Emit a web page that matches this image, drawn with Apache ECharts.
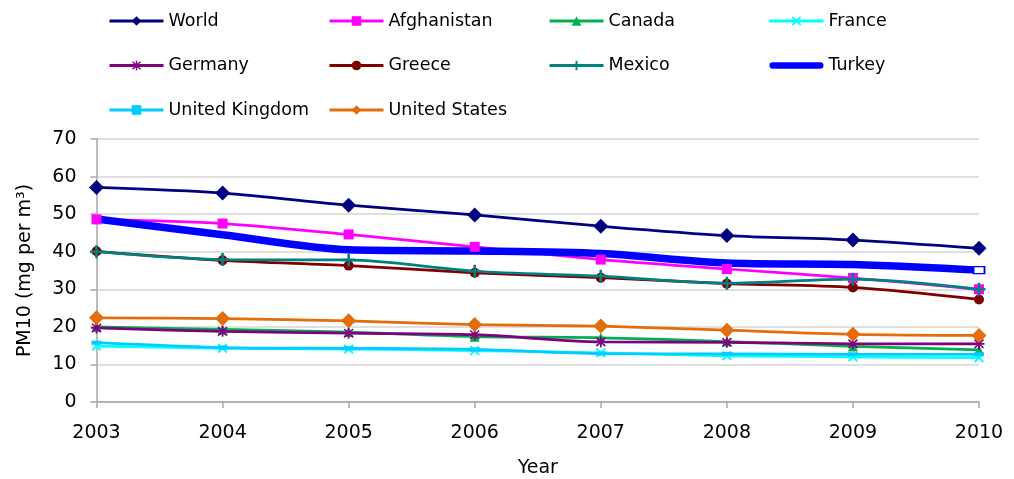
<!DOCTYPE html>
<html>
<head>
<meta charset="utf-8">
<script src="https://cdn.jsdelivr.net/npm/echarts@6/dist/echarts.min.js"></script>
<style>html,body{margin:0;padding:0;background:#fff;}#c{width:1014px;height:479px;}</style>
</head>
<body>
<div id="c"></div>
<script>
const years = ['2003','2004','2005','2006','2007','2008','2009','2010'];
const world       = [57.1, 55.6, 52.4, 49.8, 46.8, 44.3, 43.1, 40.9];
const afghanistan = [48.6, 47.5, 44.6, 41.3, 37.9, 35.4, 33.0, 30.0];
const canada      = [20.0, 19.3, 18.6, 17.4, 17.1, 16.1, 14.8, 13.9];
const france      = [14.9, 14.3, 14.1, 13.7, 13.1, 12.3, 12.0, 11.8];
const germany     = [19.7, 18.8, 18.3, 17.9, 16.0, 15.9, 15.5, 15.5];
const greece      = [40.1, 37.7, 36.3, 34.4, 33.1, 31.5, 30.5, 27.3];
const mexico      = [40.0, 37.9, 37.8, 34.8, 33.5, 31.6, 32.7, 30.0];
const turkey      = [48.7, 44.5, 40.5, 40.2, 39.5, 37.0, 36.6, 35.1];
const uk          = [15.8, 14.5, 14.3, 14.0, 12.9, 12.8, 12.7, 12.7];
const us          = [22.4, 22.2, 21.6, 20.6, 20.2, 19.1, 18.0, 17.7];
const yTicks = [0, 10, 20, 30, 40, 50, 60, 70];

const FONT = 'DejaVu Sans';
const plusPath = 'path://M4,0H6V4H10V6H6V10H4V6H0V4H4Z';
const xPath = 'path://M1.4,0L5,3.6L8.6,0L10,1.4L6.4,5L10,8.6L8.6,10L5,6.4L1.4,10L0,8.6L3.6,5L0,1.4Z';
const starPath = 'path://M4.2,0H5.8V3.1L8.6,0.6L9.6,1.7L6.9,4.2H10V5.8H6.9L9.6,8.3L8.6,9.4L5.8,6.9V10H4.2V6.9L1.4,9.4L0.4,8.3L3.1,5.8H0V4.2H3.1L0.4,1.7L1.4,0.6L4.2,3.1Z';
const thickLegendPath = 'path://M0,0L0.01,0L0.01,0.01Z M1,2.5H53A3.5,3.5 0 0 1 53,9.5H1A3.5,3.5 0 0 1 1,2.5Z M0,12L0.01,12L0.01,11.99Z';

function mk(name, data, color, symbol, size, width) {
  return {
    name: name, type: 'line', data: data, smooth: 0.3,
    symbol: symbol, symbolSize: size, showSymbol: true,
    lineStyle: { color: color, width: width || 2.75 },
    itemStyle: { color: color },
    emphasis: { disabled: true },
    animation: false
  };
}

const last = turkey.length - 1;
const series = [
  mk('World', world, '#000080', 'diamond', 15),
  mk('Afghanistan', afghanistan, '#FF00FF', 'rect', 10),
  mk('Canada', canada, '#00B050', 'triangle', 10),
  mk('France', france, '#00FFFF', xPath, 10),
  mk('Germany', germany, '#800080', starPath, 11),
  mk('Greece', greece, '#800000', 'circle', 10),
  mk('Mexico', mexico, '#008080', plusPath, 13),
  mk('Turkey', turkey.map((v, i) => i === last ? {
      value: v, symbol: 'rect', symbolSize: [11, 7],
      itemStyle: { color: '#ffffff', borderColor: '#0000FF', borderWidth: 1.5 }
    } : { value: v, symbol: 'none' }), '#0000FF', 'none', 0, 7.5),
  mk('United Kingdom', uk, '#00CCFF', 'rect', [10, 4]),
  mk('United States', us, '#E46C0A', 'diamond', 15)
];

function legendCol(left, names) {
  return {
    orient: 'vertical', left: left, top: 11,
    itemWidth: 54, itemHeight: 12, itemGap: 24.5,
    lineStyle: { width: 3 },
    textStyle: { fontFamily: FONT, fontSize: 17.5, color: '#000', lineHeight: 20 },
    data: names, selectedMode: false, padding: 0
  };
}

const chart = echarts.init(document.getElementById('c'), null, { renderer: 'canvas' });
chart.setOption({
  backgroundColor: '#ffffff',
  animation: false,
  legend: [
    legendCol(108, ['World', 'Germany', 'United Kingdom']),
    legendCol(328, ['Afghanistan', 'Greece', 'United States']),
    legendCol(548, ['Canada', 'Mexico']),
    legendCol(768, ['France', { name: 'Turkey', icon: thickLegendPath, itemStyle: { color: '#0000FF' } }])
  ],
  grid: { left: 96.5, right: 35, top: 139, bottom: 77, containLabel: false, outerBoundsMode: 'none' },
  xAxis: {
    type: 'category', data: years, boundaryGap: false,
    name: 'Year', nameLocation: 'middle', nameGap: 57,
    nameTextStyle: { fontFamily: FONT, fontSize: 19, color: '#000' },
    axisLine: { lineStyle: { color: '#a6a6a6', width: 1.5 } },
    axisTick: { show: true, length: 6, lineStyle: { color: '#a6a6a6', width: 1.5 } },
    axisLabel: { fontFamily: FONT, fontSize: 19, color: '#000', margin: 22 },
    splitLine: { show: false }
  },
  yAxis: {
    type: 'value', min: 0, max: 70, interval: 10,
    name: 'PM10 (mg per m³)', nameLocation: 'middle', nameGap: 62, nameRotate: 90,
    nameTextStyle: { fontFamily: FONT, fontSize: 19, color: '#000' },
    axisLine: { show: true, lineStyle: { color: '#a6a6a6', width: 1.5 } },
    axisTick: { show: true, length: 6, lineStyle: { color: '#a6a6a6', width: 1.5 } },
    axisLabel: { fontFamily: FONT, fontSize: 19, color: '#000', margin: 20,
      formatter: v => yTicks.indexOf(v) >= 0 ? String(v) : '' },
    splitLine: { show: true, lineStyle: { color: '#d4d4d4', width: 1.5 } }
  },
  series: series
});
</script>
</body>
</html>
